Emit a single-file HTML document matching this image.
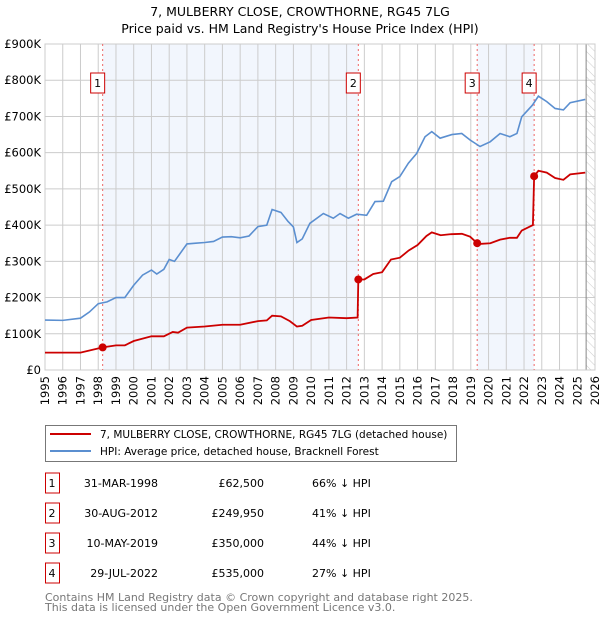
<!DOCTYPE html>
<html><head><meta charset="utf-8"><style>
body{margin:0;background:#fff;font-family:"DejaVu Sans","Liberation Sans",sans-serif;}
svg text{font-family:"DejaVu Sans","Liberation Sans",sans-serif;}
</style></head><body>
<svg id="chart" width="600" height="620" xmlns="http://www.w3.org/2000/svg">
<defs><pattern id="hatch" width="6" height="6" patternUnits="userSpaceOnUse" patternTransform="rotate(-45)"><line x1="0" y1="0" x2="0" y2="6" stroke="#ccc" stroke-width="1"/></pattern></defs>
<text x="300" y="16" text-anchor="middle" font-size="12.5">7, MULBERRY CLOSE, CROWTHORNE, RG45 7LG</text>
<text x="300" y="33" text-anchor="middle" font-size="12.5">Price paid vs. HM Land Registry's House Price Index (HPI)</text>
<g id="plot"></g>
<g>
<rect x="45.5" y="425.5" width="411" height="36" fill="#fff" stroke="#777"/>
<line x1="50" y1="434" x2="91" y2="434" stroke="#cc0000" stroke-width="2"/>
<text x="100" y="438" font-size="10.5">7, MULBERRY CLOSE, CROWTHORNE, RG45 7LG (detached house)</text>
<line x1="50" y1="451" x2="91" y2="451" stroke="#5b8fd0" stroke-width="2"/>
<text x="100" y="455" font-size="10.5">HPI: Average price, detached house, Bracknell Forest</text>
</g>
<g id="table"></g>
<text x="45" y="601" font-size="11" fill="#777">Contains HM Land Registry data © Crown copyright and database right 2025.</text>
<text x="45" y="611" font-size="11" fill="#777">This data is licensed under the Open Government Licence v3.0.</text>
</svg>
<script>
const yTicks=[0,100,200,300,400,500,600,700,800,900];
const yTickLabels=["£0","£100K","£200K","£300K","£400K","£500K","£600K","£700K","£800K","£900K"];
const xYears=[1995,1996,1997,1998,1999,2000,2001,2002,2003,2004,2005,2006,2007,2008,2009,2010,2011,2012,2013,2014,2015,2016,2017,2018,2019,2020,2021,2022,2023,2024,2025,2026];
const hpiT=[1995,1996,1997,1997.5,1998,1998.5,1999,1999.5,2000,2000.5,2001,2001.3,2001.7,2002,2002.3,2003,2003.5,2004,2004.5,2005,2005.5,2006,2006.5,2007,2007.5,2007.8,2008.3,2008.7,2009.0,2009.2,2009.5,2009.93,2010.69,2011.25,2011.63,2012.1,2012.56,2013.13,2013.6,2014.07,2014.54,2015.0,2015.48,2015.95,2016.42,2016.8,2017.27,2017.93,2018.49,2018.96,2019.52,2020.09,2020.65,2021.2,2021.6,2021.87,2022.47,2022.81,2023.28,2023.75,2024.22,2024.6,2025.45];
const hpiV=[138,137,143,160,183,188,200,200,234,262,276,265,278,305,300,348,350,352,355,367,368,365,370,396,400,443,435,410,395,352,362,405,432,419,432,419,430,427,465,466,520,534,571,598,644,658,640,650,653,635,617,630,653,644,653,699,731,756,741,722,718,738,747];
const ppT=[1995,1997,1998.25,1999,1999.5,2000,2001,2001.7,2002.2,2002.5,2003,2004,2005,2006,2007,2007.5,2007.8,2008.3,2008.8,2009.2,2009.5,2010,2011,2012,2012.62,2012.66,2013,2013.5,2014,2014.5,2015,2015.5,2016,2016.5,2016.8,2017.3,2017.9,2018.5,2018.96,2019.36,2019.5,2020.1,2020.65,2021.2,2021.6,2021.87,2022.5,2022.57,2022.81,2023.28,2023.75,2024.22,2024.6,2025.45];
const ppV=[48,48,62.5,68,68,80,93,93,105,103,117,120,125,125,135,137,150,148,135,120,122,138,145,143,145,249.95,250,265,270,305,310,330,345,370,380,372,375,376,368,350,348,350,360,365,365,385,400,535,550,545,530,525,540,545];
const saleT=[1998.25,2012.66,2019.36,2022.57];
const saleV=[62.5,249.95,350,535];
const saleLabels=["1","2","3","4"];
const saleDates=["31-MAR-1998","30-AUG-2012","10-MAY-2019","29-JUL-2022"];
const salePrices=["£62,500","£249,950","£350,000","£535,000"];
const saleHpi=["66% ↓ HPI","41% ↓ HPI","44% ↓ HPI","27% ↓ HPI"];

const NS="http://www.w3.org/2000/svg";
const X0=45,X1=595,Y0=370,Y1=44,T0=1995,T1=2026,VMAX=900;
const xs=t=>X0+(t-T0)/(T1-T0)*(X1-X0);
const ys=v=>Y0-v/VMAX*(Y0-Y1);
const plot=document.getElementById('plot');
function mk(tag,attrs,parent){const e=document.createElementNS(NS,tag);for(const k in attrs)e.setAttribute(k,attrs[k]);(parent||plot).appendChild(e);return e;}
let s1=mk('rect',{x:xs(saleT[0]),y:Y1,width:xs(saleT[1])-xs(saleT[0]),height:Y0-Y1,fill:'#f2f6fd'});


let s2=mk('rect',{x:xs(saleT[2]),y:Y1,width:xs(saleT[3])-xs(saleT[2]),height:Y0-Y1,fill:'#f2f6fd'});


let hx=xs(2025.5);
let h=mk('rect',{x:hx,y:Y1,width:X1-hx,height:Y0-Y1,fill:'url(#hatch)'});


yTicks.forEach((v,i)=>{
 let l=mk('line',{x1:X0,x2:X1,y1:ys(v),y2:ys(v),stroke:'#ccc','stroke-width':1});
 
 
 let t=mk('text',{x:X0-4,y:ys(v)+4,'text-anchor':'end','font-size':11.5});
 
 
 t.textContent=yTickLabels[i];
});
xYears.forEach(yr=>{
 let l=mk('line',{x1:xs(yr),x2:xs(yr),y1:Y1,y2:Y0,stroke:'#ccc','stroke-width':1});
 
 
 let t=mk('text',{x:0,y:0,'text-anchor':'end','font-size':11.5,transform:`translate(${xs(yr)+4},${Y0+6}) rotate(-90)`});
 
 
 t.textContent=yr;
});
let hl=mk('line',{x1:hx,x2:hx,y1:Y1,y2:Y0,stroke:'#888','stroke-width':1});


let fr=mk('rect',{x:X0,y:Y1,width:X1-X0,height:Y0-Y1,fill:'none',stroke:'#ccc'});


saleT.forEach((t,i)=>{
 let l=mk('line',{x1:xs(t),x2:xs(t),y1:Y1,y2:Y0,stroke:'#e66','stroke-width':1,'stroke-dasharray':'2,3'});
 
 
 let b=mk('rect',{x:xs(t)-12,y:73,width:14,height:20,fill:'#fff',stroke:'#cc0000'});
 
 
 let tx=mk('text',{x:xs(t)-5,y:87,'text-anchor':'middle','font-size':11});
 
 
 tx.textContent=saleLabels[i];
});
let hp=mk('polyline',{points:hpiT.map((t,i)=>xs(t)+','+ys(hpiV[i])).join(' '),fill:'none',stroke:'#5b8fd0','stroke-width':1.6});


let pp=mk('polyline',{points:ppT.map((t,i)=>xs(t)+','+ys(ppV[i])).join(' '),fill:'none',stroke:'#cc0000','stroke-width':1.8});


saleT.forEach((t,i)=>{
 let c=mk('circle',{cx:xs(t),cy:ys(saleV[i]),r:4,fill:'#cc0000'});
 
 
});
const tb=document.getElementById('table');
saleLabels.forEach((lab,i)=>{
 const cy=483+i*30;
 let b=mk('rect',{x:45.5,y:cy-10,width:14,height:20,fill:'#fff',stroke:'#cc0000'},tb);
 
 
 let t1=mk('text',{x:52,y:cy+4,'text-anchor':'middle','font-size':11},tb);
 
 
 t1.textContent=lab;
 let t2=mk('text',{x:158,y:cy+4,'text-anchor':'end','font-size':11},tb);
 
 
 t2.textContent=saleDates[i];
 let t3=mk('text',{x:264,y:cy+4,'text-anchor':'end','font-size':11},tb);
 
 
 t3.textContent=salePrices[i];
 let t4=mk('text',{x:312,y:cy+4,'font-size':11},tb);
 
 
 t4.textContent=saleHpi[i];
});
</script>
</body></html>
